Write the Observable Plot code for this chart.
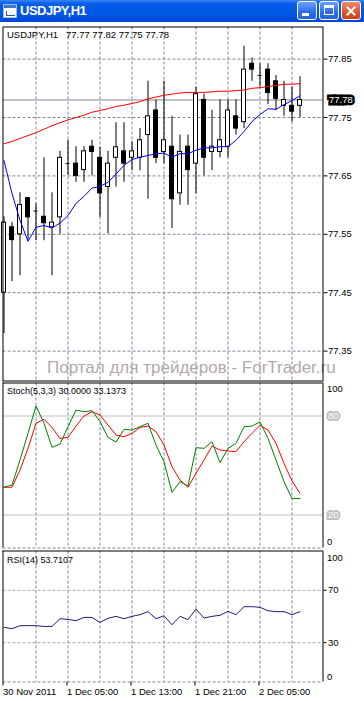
<!DOCTYPE html>
<html><head><meta charset="utf-8">
<script src="https://cdn.jsdelivr.net/npm/d3@7"></script>
<script src="https://cdn.jsdelivr.net/npm/@observablehq/plot@0.6"></script>
<style>
body{margin:0;width:364px;height:701px;overflow:hidden;background:#fff;position:relative}
#tb{position:absolute;left:0;top:0;width:364px;height:22px;background:linear-gradient(to bottom,#3b86f5 0px,#0d60ea 3px,#0058e6 8px,#0055e3 16px,#0046d4 22px)}
#tb .t{position:absolute;left:20px;top:3px;font:bold 13px 'Liberation Sans';letter-spacing:-0.5px;color:#fff}
#ico{position:absolute;left:3px;top:4px;width:12px;height:12px;background:#fff;border:1px solid #9cc0f0}
#ico i{position:absolute;left:0;top:0;width:12px;height:3px;background:#3a78d8}
#ico b{position:absolute;left:2px;top:6px;width:8px;height:4px;border-bottom:1px solid #2a5ab0;border-left:1px solid #2a5ab0}
.btn{position:absolute;top:1px;width:20px;height:19px;border:1px solid #fff;border-radius:3px;box-sizing:border-box;background:linear-gradient(to bottom,#6aa0ff,#2e6ce8 60%,#2a62dc)}
#bmin{left:297px}#bmax{left:319px}
#bcls{left:341px;background:linear-gradient(to bottom,#ef8a66,#dc5530 60%,#c8401c)}
#bmin i{position:absolute;left:4px;top:11px;width:7px;height:3px;background:#fff}
#bmax i{position:absolute;left:4px;top:3px;width:10px;height:10px;box-sizing:border-box;border:1px solid #fff;border-top-width:3px}
#bcls i,#bcls b{position:absolute;left:8px;top:3px;width:2px;height:12px;background:#fff;transform:rotate(45deg)}
#bcls b{transform:rotate(-45deg)}
#main{position:absolute;left:0;top:25px}
#stoch{position:absolute;left:0;top:381px}
#rsi{position:absolute;left:0;top:549px}
svg{display:block}
</style></head>
<body>
<div id="tb"><div id="ico"><i></i><b></b></div><div class="t">USDJPY,H1</div>
<div class="btn" id="bmin"><i></i></div><div class="btn" id="bmax"><i></i></div><div class="btn" id="bcls"><i></i><b></b></div></div>
<div id="main"></div><div id="stoch"></div><div id="rsi"></div>
<script>
// ---- data ----
const mainTitle = "USDJPY,H1\u00a0\u00a0 77.77 77.82 77.75 77.78";
const stochTitle = "Stoch(5,3,3) 30.0000 33.1373";
const rsiTitle = "RSI(14) 53.7107";
const watermark = "Портал для трейдеров - ForTrader.ru";
const timeLabels = ["30 Nov 2011", "1 Dec 05:00", "1 Dec 13:00", "1 Dec 21:00", "2 Dec 05:00"];
const timeBars = [0, 8, 16, 24, 32];
const gridBars = [4, 8, 12, 16, 20, 24, 28, 32, 36];
const priceTicks = [77.35, 77.45, 77.55, 77.65, 77.75, 77.85];
const bid = 77.78;
const stochLevels = [80, 20];
const rsiLevels = [70, 30];

const open  = [77.450,77.562,77.550,77.612,77.590,77.580,77.562,77.579,77.671,77.671,77.660,77.700,77.681,77.631,77.681,77.692,77.681,77.681,77.720,77.762,77.691,77.700,77.620,77.700,77.671,77.780,77.691,77.691,77.700,77.752,77.742,77.842,77.822,77.832,77.812,77.770,77.770,77.770];
const high  = [77.580,77.570,77.621,77.612,77.602,77.681,77.621,77.692,77.711,77.700,77.700,77.711,77.699,77.692,77.741,77.741,77.708,77.731,77.812,77.780,77.812,77.752,77.720,77.720,77.802,77.790,77.762,77.780,77.780,77.780,77.872,77.852,77.842,77.842,77.822,77.812,77.802,77.820];
const low   = [77.380,77.469,77.479,77.538,77.539,77.539,77.479,77.550,77.651,77.639,77.639,77.650,77.579,77.551,77.631,77.639,77.659,77.659,77.610,77.671,77.671,77.560,77.600,77.600,77.620,77.650,77.659,77.681,77.681,77.720,77.731,77.812,77.802,77.772,77.762,77.752,77.742,77.750];
const close = [77.570,77.540,77.600,77.579,77.590,77.569,77.570,77.681,77.671,77.650,77.692,77.691,77.620,77.671,77.699,77.671,77.692,77.711,77.752,77.681,77.711,77.610,77.691,77.660,77.790,77.681,77.700,77.711,77.762,77.731,77.832,77.832,77.822,77.792,77.782,77.780,77.760,77.780];
const maSlow = [77.705,77.709,77.714,77.719,77.724,77.730,77.736,77.741,77.746,77.750,77.754,77.759,77.762,77.765,77.769,77.771,77.774,77.777,77.782,77.785,77.788,77.790,77.792,77.793,77.793,77.793,77.794,77.795,77.795,77.796,77.797,77.800,77.801,77.803,77.805,77.807,77.807,77.808];
const maFast = [77.676,77.620,77.574,77.538,77.562,77.565,77.561,77.569,77.582,77.603,77.615,77.629,77.632,77.639,77.653,77.668,77.678,77.682,77.685,77.688,77.689,77.682,77.688,77.688,77.694,77.698,77.698,77.700,77.700,77.711,77.726,77.743,77.755,77.765,77.764,77.772,77.779,77.787];
const stochK = [36.8,38.2,53.3,69.5,86.1,75.6,61.0,63.0,73.5,83.6,82.6,83.2,76.6,67.1,64.2,71.9,71.5,73.5,75.6,62.4,52.3,33.7,40.2,37.6,60.8,60.4,64.4,51.7,60.4,63.4,73.5,73.9,76.4,66.5,53.3,40.2,29.9,30.0];
const stochD = [36.8,36.8,47.3,60.4,75.6,78.0,73.1,66.3,67.1,73.9,80.0,82.6,80.6,74.5,68.5,67.5,69.5,73.1,73.9,70.5,62.4,49.3,41.2,36.8,45.3,53.3,61.8,59.4,58.8,58.4,64.4,69.5,74.3,71.5,63.4,51.3,40.7,33.14];
const rsi = [41.7,40.7,43.0,43.0,43.0,42.4,42.4,48.3,47.8,46.8,49.3,49.3,45.5,48.6,50.1,48.3,50.1,51.4,53.7,48.3,50.6,43.7,50.1,47.6,55.7,48.8,50.1,50.9,53.9,51.4,57.5,57.5,57.0,54.4,53.7,53.7,51.4,53.71];

// ---- build ----
const bars = open.map((o, i) => ({i, o, h: high[i], l: low[i], c: close[i]}));
const xDomain = [-0.125, 39.875];
const grid = {stroke: "#778899", strokeDasharray: "3,2"};
const font = {fontFamily: "Liberation Sans", fontSize: "9.5px", background: "transparent", color: "black", overflow: "visible"};
const edges = [
  Plot.ruleX([xDomain[0], xDomain[1]], {stroke: "black"})
];
const idx = (d, i) => i;
const val = d => d;

const main = Plot.plot({
  width: 364, height: 356,
  marginLeft: 2.5, marginRight: 41.5, marginTop: 1.5, marginBottom: 0.5,
  x: {domain: xDomain, axis: null},
  y: {domain: [77.298801, 77.904966], axis: null},
  style: font,
  marks: [
    Plot.ruleX(gridBars, grid),
    Plot.ruleY(priceTicks, grid),
    Plot.text([watermark], {frameAnchor: "bottom-left", dx: 44, dy: -13, fontSize: 17, fill: "#b3a9a9", textAnchor: "start", lineAnchor: "middle", fontFamily: "Liberation Sans"}),
    Plot.ruleY([bid], {stroke: "#7c8896"}),
    Plot.ruleX(bars, {x: "i", y1: "l", y2: "h", stroke: "black"}),
    Plot.rect(bars.filter(d => d.c > d.o), {x1: d => d.i - 0.25, x2: d => d.i + 0.25, y1: "o", y2: "c", fill: "white", stroke: "black"}),
    Plot.rect(bars.filter(d => d.c < d.o), {x1: d => d.i - 0.25, x2: d => d.i + 0.25, y1: "o", y2: "c", fill: "black", stroke: "black"}),
    Plot.ruleY(bars.filter(d => d.c === d.o), {y: "o", x1: d => d.i - 0.25, x2: d => d.i + 0.25, stroke: "black"}),
    Plot.lineY(maSlow, {x: idx, y: val, stroke: "red", strokeWidth: 1}),
    Plot.lineY(maFast, {x: idx, y: val, stroke: "blue", strokeWidth: 1}),
    Plot.frame({stroke: "black"}),
    Plot.axisY(priceTicks, {anchor: "right", tickSize: 4, tickPadding: 1, tickFormat: d => d.toFixed(2), textAnchor: "start", fontSize: 9.5}),
    Plot.text([bid], {y: val, frameAnchor: "right", dx: 6, text: d => d.toFixed(2), fill: "white", stroke: "black", strokeWidth: 5, strokeLinejoin: "miter", paintOrder: "stroke", textAnchor: "start", fontSize: 9.5}),
    Plot.text([mainTitle], {frameAnchor: "top-left", dx: 4, dy: 4, textAnchor: "start", lineAnchor: "top", fontSize: 9.5})
  ]
});
document.getElementById("main").append(main);

const st = Plot.plot({
  width: 364, height: 168,
  marginLeft: 2.5, marginRight: 41.5, marginTop: 1.5, marginBottom: 1.5,
  x: {domain: xDomain, axis: null},
  y: {domain: [0, 100], axis: null},
  style: font,
  marks: [
    Plot.ruleX(gridBars, grid),
    Plot.ruleY([0], grid),
    Plot.ruleY(stochLevels, {stroke: "#c0c0c0"}),
    Plot.lineY(stochD, {x: idx, y: val, stroke: "red", strokeWidth: 1}),
    Plot.lineY(stochK, {x: idx, y: val, stroke: "green", strokeWidth: 1}),
    ...edges,
    Plot.ruleY([100], {stroke: "black"}),
    Plot.axisY([100], {anchor: "right", tickSize: 0, tickPadding: 4, dy: 6, textAnchor: "start", fontSize: 9.5}),
    Plot.axisY([0], {anchor: "right", tickSize: 0, tickPadding: 4, dy: -6, textAnchor: "start", fontSize: 9.5}),
    Plot.text(stochLevels, {y: val, frameAnchor: "right", dx: 5, text: d => String(d), fill: "white", stroke: "#c0c0c0", strokeWidth: 4, strokeLinejoin: "miter", paintOrder: "stroke", textAnchor: "start", fontSize: 9.5}),
    Plot.text([stochTitle], {frameAnchor: "top-left", dx: 4, dy: 5, textAnchor: "start", lineAnchor: "top", fontSize: 9})
  ]
});
document.getElementById("stoch").append(st);

const rs = Plot.plot({
  width: 364, height: 152,
  marginLeft: 2.5, marginRight: 41.5, marginTop: 1.5, marginBottom: 19.5,
  x: {domain: xDomain, axis: null},
  y: {domain: [0, 100], axis: null},
  style: font,
  marks: [
    Plot.ruleX(gridBars, grid),
    Plot.ruleY([0], grid),
    Plot.ruleY(rsiLevels, {stroke: "#a8a8a8", strokeDasharray: "3,2"}),
    Plot.lineY(rsi, {x: idx, y: val, stroke: "#1e1e78", strokeWidth: 1}),
    ...edges,
    Plot.ruleY([100], {stroke: "black"}),
    Plot.axisY(rsiLevels, {anchor: "right", tickSize: 3, tickPadding: 2, textAnchor: "start", fontSize: 9.5}),
    Plot.axisY([100], {anchor: "right", tickSize: 0, tickPadding: 4, dy: 7, textAnchor: "start", fontSize: 9.5}),
    Plot.axisY([0], {anchor: "right", tickSize: 0, tickPadding: 4, dy: -5, textAnchor: "start", fontSize: 9.5}),
    Plot.axisX(timeBars, {anchor: "bottom", tickSize: 4, tickPadding: 2, tickFormat: d => timeLabels[timeBars.indexOf(d)], textAnchor: "start", dx: -1, fontSize: 9.5}),
    Plot.text([rsiTitle], {frameAnchor: "top-left", dx: 4, dy: 6, textAnchor: "start", lineAnchor: "top", fontSize: 9})
  ]
});
document.getElementById("rsi").append(rs);
</script>
</body></html>
